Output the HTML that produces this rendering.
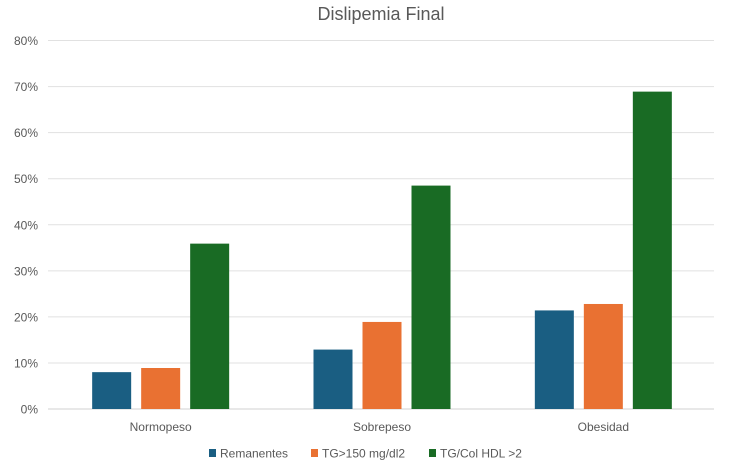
<!DOCTYPE html>
<html><head><meta charset="utf-8"><style>
html,body{margin:0;padding:0;background:#fff;}
svg{display:block;font-family:"Liberation Sans",sans-serif;}
</style></head><body>
<svg id="chart" width="750" height="475">
<text x="381" y="20" text-anchor="middle" font-size="18" fill="#595959">Dislipemia Final</text>
<g id="grid"></g>
<g id="yaxis"></g>
<g id="bars"></g>
<g id="xaxis"></g>
<g id="legend"></g>
</svg>
<script>
const categories = ["Normopeso","Sobrepeso","Obesidad"];
const seriesNames = ["Remanentes","TG>150 mg/dl2","TG/Col HDL >2"];
const remanentes = [8.0, 12.9, 21.4];
const tg150 = [8.9, 18.9, 22.8];
const tgHdl = [35.9, 48.5, 68.9];
const yTicks = [0,10,20,30,40,50,60,70,80];
const yTickLabels = ["0%","10%","20%","30%","40%","50%","60%","70%","80%"];

const colors = ["#1a5e82","#e97132","#196b24"];
const series = [remanentes, tg150, tgHdl];
const NS = "http://www.w3.org/2000/svg";
const plotL = 50, plotR = 714, y0 = 409, y80 = 40.5;
const yScale = v => y0 - (v/80)*(y0-y80);
const catW = (plotR-plotL)/categories.length;
const xCenter = i => plotL + catW*(i+0.5);
const barW = 39, gap = 10;
function mk(tag, attrs, parent){const e=document.createElementNS(NS,tag);for(const k in attrs)e.setAttribute(k,attrs[k]);parent.appendChild(e);return e;}
const grid=document.getElementById('grid'), yaxis=document.getElementById('yaxis'), bars=document.getElementById('bars'), xaxis=document.getElementById('xaxis'), legend=document.getElementById('legend');
yTicks.forEach((t,i)=>{
  const y=yScale(t);
  const l=mk('line',{x1:plotL-2,x2:plotR,y1:y,y2:y,stroke:i===0?'#d0d0d0':'#e1e1e1','stroke-width':1},grid);
  
  
  const tx=mk('text',{x:38,y:y+4.5,'text-anchor':'end','font-size':12,fill:'#595959'},yaxis);
  tx.textContent=yTickLabels[i];
  
  
});
categories.forEach((c,i)=>{
  const cx=xCenter(i);
  series.forEach((s,j)=>{
    const x=cx-(barW*1.5+gap)+j*(barW+gap);
    const r=mk('rect',{x:x,y:yScale(s[i]),width:barW,height:y0-yScale(s[i]),fill:colors[j]},bars);
    
    
  });
  const tx=mk('text',{x:cx,y:431,'text-anchor':'middle','font-size':12,fill:'#595959'},xaxis);
  tx.textContent=c;
  
  
});
const legX=[209,311,429];
seriesNames.forEach((n,j)=>{
  const r=mk('rect',{x:legX[j],y:449,width:7,height:8,fill:colors[j]},legend);
  
  
  const tx=mk('text',{x:legX[j]+11,y:457.5,'font-size':12,fill:'#595959'},legend);
  tx.textContent=n;
  
  
});
</script>
</body></html>
